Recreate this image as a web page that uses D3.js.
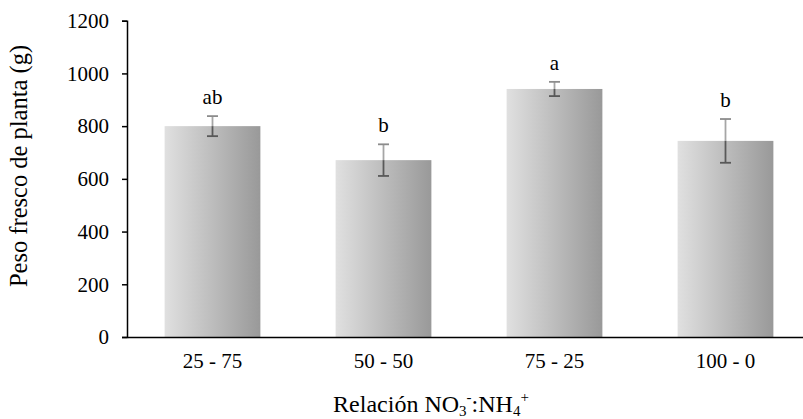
<!DOCTYPE html>
<html>
<head>
<meta charset="utf-8">
<script src="https://cdn.jsdelivr.net/npm/d3@7"></script>
<style>
  body { margin: 0; background: #fff; }
  svg text { font-family: "Times New Roman", "Liberation Serif", serif; fill: #000; }
</style>
</head>
<body>
<div id="chart"></div>
<script>
// Data
const categories = ['25 - 75', '50 - 50', '75 - 25', '100 - 0'];
const means = [800, 671, 941, 744];
const errors = [38, 60, 27, 83];
const letters = ['ab', 'b', 'a', 'b'];
const yTicks = [0, 200, 400, 600, 800, 1000, 1200];

const width = 803, height = 419;
const plot = {left: 127, right: 811, top: 20.7, bottom: 337};
const serif = '"Times New Roman", "Liberation Serif", serif';

const svg = d3.select('#chart').append('svg')
  .attr('width', width)
  .attr('height', height)
  .attr('font-family', serif);

const x = d3.scaleBand()
  .domain(categories)
  .range([plot.left, plot.right])
  .paddingInner(0.44)
  .paddingOuter(0.22);

const y = d3.scaleLinear()
  .domain([0, 1200])
  .range([plot.bottom, plot.top]);

// gradient fill for bars
const grad = svg.append('defs').append('linearGradient')
    .attr('id', 'barGrad')
    .attr('x1', '0%').attr('x2', '100%')
    .attr('y1', '0%').attr('y2', '0%');
grad.append('stop').attr('offset', '0%').attr('stop-color', '#e0e0e0');
grad.append('stop').attr('offset', '100%').attr('stop-color', '#999999');

// Bars
svg.append('g')
  .selectAll('rect')
  .data(categories)
  .join('rect')
    .attr('x', d => x(d))
    .attr('y', (d, i) => y(means[i]))
    .attr('width', x.bandwidth())
    .attr('height', (d, i) => y(0) - y(means[i]))
    .attr('fill', 'url(#barGrad)');

// Error bars: upper half lighter, lower half darker
const eb = svg.append('g').selectAll('g')
  .data(categories)
  .join('g')
    .attr('transform', d => `translate(${x(d) + x.bandwidth() / 2},0)`);
eb.append('line')
    .attr('y1', (d, i) => y(means[i]))
    .attr('y2', (d, i) => y(means[i] + errors[i]))
    .attr('stroke', '#a6a6a6')
    .attr('stroke-width', 1.8);
eb.append('line')
    .attr('x1', -5.5).attr('x2', 5.5)
    .attr('y1', (d, i) => y(means[i] + errors[i]))
    .attr('y2', (d, i) => y(means[i] + errors[i]))
    .attr('stroke', '#8c8c8c')
    .attr('stroke-width', 1.8);
eb.append('line')
    .attr('y1', (d, i) => y(means[i]))
    .attr('y2', (d, i) => y(means[i] - errors[i]))
    .attr('stroke', '#595959')
    .attr('stroke-width', 1.8);
eb.append('line')
    .attr('x1', -5.5).attr('x2', 5.5)
    .attr('y1', (d, i) => y(means[i] - errors[i]))
    .attr('y2', (d, i) => y(means[i] - errors[i]))
    .attr('stroke', '#595959')
    .attr('stroke-width', 1.8);

// Significance letters
svg.append('g')
  .selectAll('text')
  .data(categories)
  .join('text')
    .attr('x', d => x(d) + x.bandwidth() / 2)
    .attr('y', (d, i) => y(means[i] + errors[i]) - 12)
    .attr('text-anchor', 'middle')
    .style('font-size', '21px')
    .text((d, i) => letters[i]);

// Y axis
const yAxis = svg.append('g')
    .attr('transform', `translate(${plot.left},0)`)
    .call(d3.axisLeft(y).tickValues(yTicks).tickFormat(d3.format('d')).tickSize(5).tickPadding(13));
yAxis.attr('font-family', serif).attr('font-size', 21);
yAxis.select('.domain').attr('stroke', '#000').attr('stroke-width', 1.5);
yAxis.selectAll('.tick line').attr('stroke', '#000').attr('stroke-width', 1.5);
yAxis.selectAll('.tick text').attr('fill', '#000');

// X axis
const xAxis = svg.append('g')
    .attr('transform', `translate(0,${plot.bottom})`)
    .call(d3.axisBottom(x).tickSize(0).tickPadding(16).tickSizeOuter(0));
xAxis.attr('font-family', serif).attr('font-size', 21);
xAxis.select('.domain').attr('stroke', '#000').attr('stroke-width', 1.5);
xAxis.selectAll('.tick text').attr('fill', '#000');

// Axis titles
svg.append('text')
    .attr('transform', 'translate(27,166) rotate(-90)')
    .attr('text-anchor', 'middle')
    .style('font-size', '24.5px')
    .text('Peso fresco de planta (g)');

const xt = svg.append('text')
    .attr('x', 431)
    .attr('y', 412)
    .attr('text-anchor', 'middle')
    .style('font-size', '24px');
xt.append('tspan').text('Relación NO');
xt.append('tspan').attr('dy', 4).style('font-size', '15px').text('3');
xt.append('tspan').attr('dy', -14).style('font-size', '15px').text('-');
xt.append('tspan').attr('dy', 10).text(':NH');
xt.append('tspan').attr('dy', 4).style('font-size', '15px').text('4');
xt.append('tspan').attr('dy', -14).style('font-size', '15px').text('+');
</script>
</body>
</html>
